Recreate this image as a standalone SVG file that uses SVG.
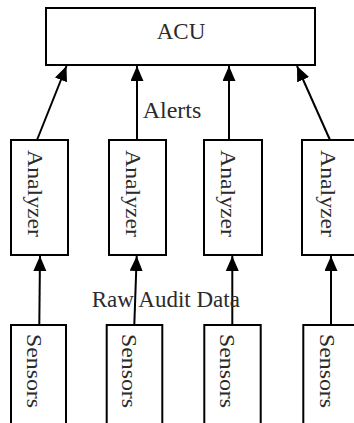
<svg xmlns="http://www.w3.org/2000/svg" width="354" height="423" viewBox="0 0 354 423">
<style>
.box{fill:#fff;stroke:#000;stroke-width:2}
.lbl{font-family:"Liberation Serif","Times New Roman",serif;fill:#2b2b2b}
.vt{font-size:21px}
.edge{stroke:#000;stroke-width:2;fill:none;marker-end:url(#ah)}
</style>
<defs>
<marker id="ah" markerUnits="userSpaceOnUse" markerWidth="16" markerHeight="14" refX="15" refY="6.5" orient="auto">
<path d="M0,0 L15,6.5 L0,13 z" fill="#000"/>
</marker>
</defs>
<rect width="354" height="423" fill="#fff"/>
<g id="connectors">
<line class="edge" x1="37" y1="140" x2="66.5" y2="66"/>
<line class="edge" x1="137" y1="140" x2="137" y2="66"/>
<line class="edge" x1="229" y1="140" x2="229" y2="66"/>
<line class="edge" x1="330" y1="140" x2="297" y2="66"/>
<line class="edge" x1="39.3" y1="325" x2="40" y2="256"/>
<line class="edge" x1="134.3" y1="325" x2="136.7" y2="256"/>
<line class="edge" x1="232.3" y1="325" x2="232.3" y2="256"/>
<line class="edge" x1="331" y1="325" x2="331" y2="256"/>
</g>
<g id="acu">
<rect class="box" x="46" y="8" width="269" height="57"/>
<text class="lbl" x="156.7" y="39" font-size="23">ACU</text>
</g>
<g id="analyzer1">
<rect class="box" x="11" y="140" width="57" height="115"/>
<text class="lbl vt" transform="translate(27.5,193.5) rotate(90)" text-anchor="middle" textLength="87" lengthAdjust="spacingAndGlyphs">Analyzer</text>
</g>
<g id="analyzer2">
<rect class="box" x="109" y="140" width="57" height="115"/>
<text class="lbl vt" transform="translate(126,193.5) rotate(90)" text-anchor="middle" textLength="87" lengthAdjust="spacingAndGlyphs">Analyzer</text>
</g>
<g id="analyzer3">
<rect class="box" x="204" y="140" width="58" height="115"/>
<text class="lbl vt" transform="translate(221.3,193.5) rotate(90)" text-anchor="middle" textLength="87" lengthAdjust="spacingAndGlyphs">Analyzer</text>
</g>
<g id="analyzer4">
<rect class="box" x="302" y="140" width="58" height="115"/>
<text class="lbl vt" transform="translate(320.5,193.5) rotate(90)" text-anchor="middle" textLength="87" lengthAdjust="spacingAndGlyphs">Analyzer</text>
</g>
<g id="sensors1">
<rect class="box" x="11" y="325" width="55" height="110"/>
<text class="lbl vt" transform="translate(26.7,371) rotate(90)" text-anchor="middle" textLength="74" lengthAdjust="spacingAndGlyphs">Sensors</text>
</g>
<g id="sensors2">
<rect class="box" x="106.7" y="325" width="55.6" height="110"/>
<text class="lbl vt" transform="translate(122.3,371) rotate(90)" text-anchor="middle" textLength="74" lengthAdjust="spacingAndGlyphs">Sensors</text>
</g>
<g id="sensors3">
<rect class="box" x="204.3" y="325" width="56.4" height="110"/>
<text class="lbl vt" transform="translate(220,371) rotate(90)" text-anchor="middle" textLength="74" lengthAdjust="spacingAndGlyphs">Sensors</text>
</g>
<g id="sensors4">
<rect class="box" x="303.3" y="325" width="56" height="110"/>
<text class="lbl vt" transform="translate(320,371) rotate(90)" text-anchor="middle" textLength="74" lengthAdjust="spacingAndGlyphs">Sensors</text>
</g>
<g id="labels">
<text class="lbl" x="142.7" y="118.3" font-size="24">Alerts</text>
<text class="lbl" x="91.7" y="306.7" font-size="23">Raw Audit Data</text>
</g>
</svg>
